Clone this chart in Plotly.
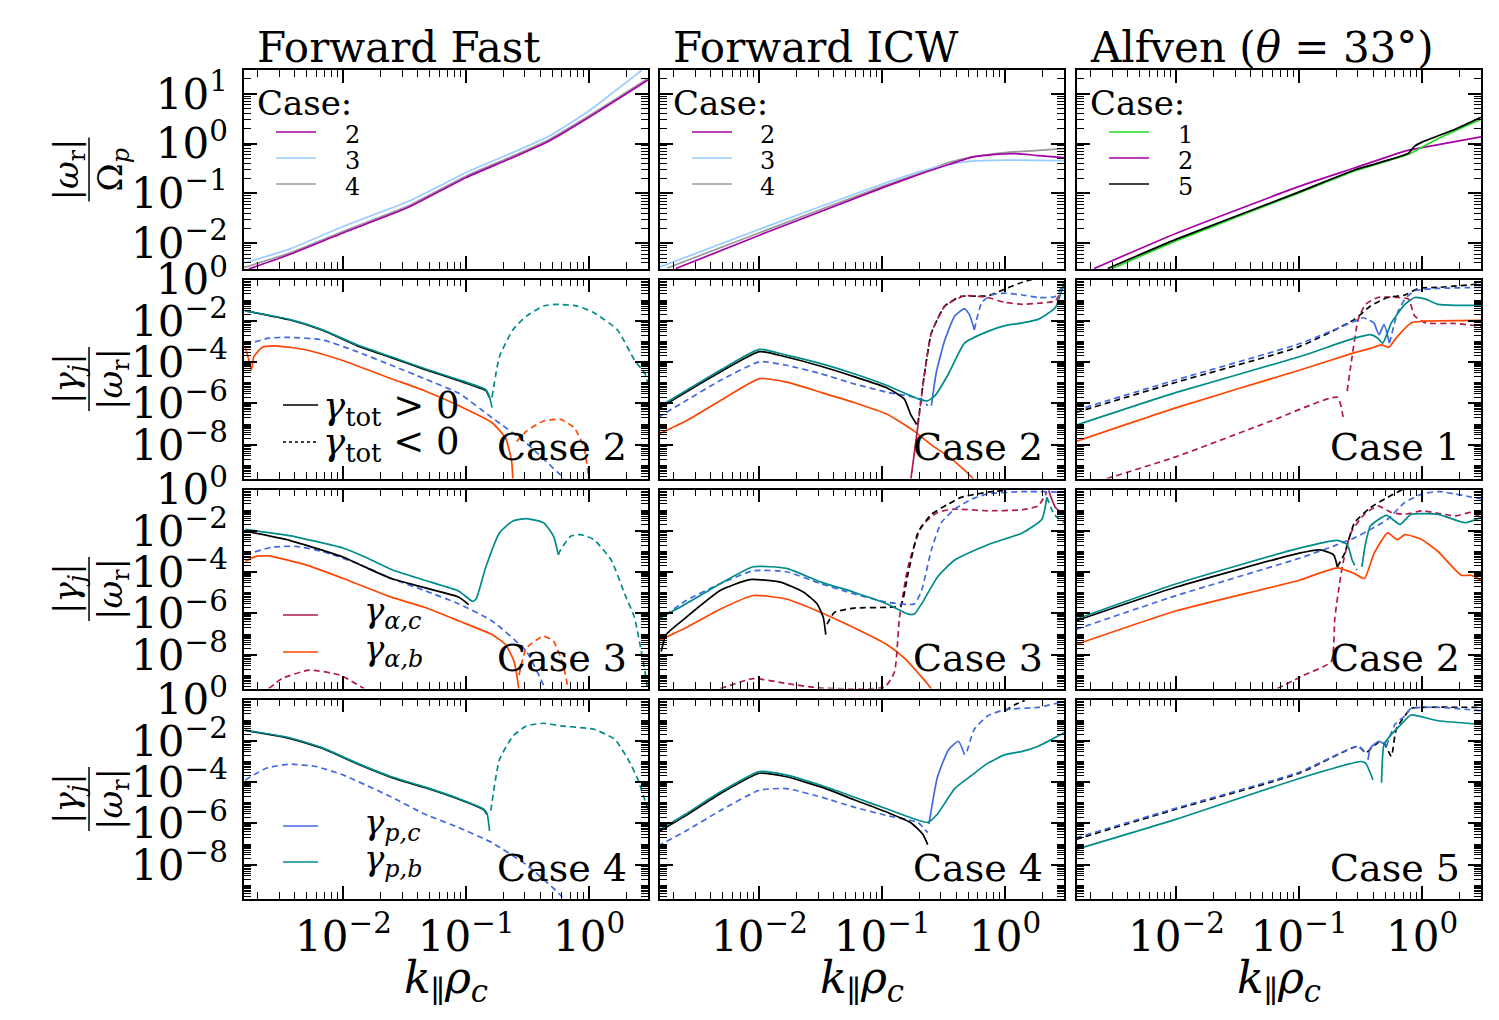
import plotly.graph_objects as go

# ---------------- DATA (log10 values) ----------------
# each list holds (log10 k_par*rho_c, log10 value)

# Row 1: |omega_r| / Omega_p
FF_W_CASE2 = [(-2.77,-2.52),(-2.44,-2.23),(-2.0,-1.79),(-1.48,-1.29),(-1.0,-0.68),(-0.65,-0.31),(-0.32,0.06),(0.0,0.53),(0.48,1.28)]
FF_W_CASE3 = [(-2.81,-2.40),(-2.44,-2.12),(-2.0,-1.66),(-1.48,-1.17),(-1.0,-0.58),(-0.65,-0.21),(-0.32,0.16),(0.0,0.66),(0.43,1.48)]
FF_W_CASE4 = [(-2.81,-2.49),(-2.44,-2.20),(-2.0,-1.76),(-1.48,-1.26),(-1.0,-0.65),(-0.65,-0.28),(-0.32,0.09),(0.0,0.56),(0.48,1.31)]

ICW_W_CASE2 = [(-2.68,-2.51),(-2.0,-1.84),(-1.0,-0.89),(-0.68,-0.60),(-0.46,-0.42),(-0.27,-0.27),(-0.14,-0.23),(0.08,-0.20),(0.27,-0.24),(0.48,-0.28)]
ICW_W_CASE3 = [(-2.81,-2.48),(-2.0,-1.72),(-1.0,-0.81),(-0.68,-0.55),(-0.46,-0.42),(-0.27,-0.35),(0.0,-0.33),(0.48,-0.34)]
ICW_W_CASE4 = [(-2.75,-2.50),(-2.0,-1.79),(-1.0,-0.86),(-0.68,-0.58),(-0.46,-0.38),(-0.27,-0.27),(0.0,-0.18),(0.27,-0.135),(0.48,-0.10)]

ALF_W_CASE1 = [(-2.53,-2.52),(-2.0,-1.95),(-1.0,-0.99),(-0.55,-0.55),(-0.115,-0.22),(0.12,0.09),(0.48,0.49)]
ALF_W_CASE2 = [(-2.67,-2.51),(-2.0,-1.80),(-1.0,-0.86),(-0.55,-0.49),(-0.14,-0.15),(0.0,-0.08),(0.48,0.135)]
ALF_W_CASE5 = [(-2.56,-2.51),(-2.0,-1.92),(-1.0,-0.97),(-0.55,-0.53),(-0.115,-0.20),(-0.06,-0.05),(0.0,0.03),(0.27,0.29),(0.48,0.53)]

# Row 2: |gamma_j|/|omega_r|  (Forward Fast case 2, Forward ICW case 2, Alfven case 1)
FF2_TOT = [(-2.80,-1.52),(-2.44,-1.95),(-2.17,-2.46),(-1.89,-3.20),(-1.61,-3.78),(-1.34,-4.35),(-1.06,-4.90),(-0.84,-5.38),(-0.81,-5.72)]
FF2_PB = [(-2.80,-1.52),(-2.44,-1.93),(-2.17,-2.43),(-1.89,-3.16),(-1.61,-3.74),(-1.34,-4.31),(-1.06,-4.85),(-0.84,-5.34),(-0.81,-5.70),(-0.79,-6.20)]
FF2_PB_NEG = [(-0.79,-5.70),(-0.73,-3.74),(-0.62,-2.43),(-0.51,-1.77),(-0.37,-1.28),(-0.26,-1.20),(-0.10,-1.28),(0.04,-1.61),(0.23,-2.43),(0.37,-3.90),(0.455,-4.56),(0.48,-5.05)]
FF2_PC_NEG = [(-2.80,-3.16),(-2.61,-2.84),(-2.44,-2.80),(-2.17,-2.92),(-1.89,-3.49),(-1.61,-4.15),(-1.34,-4.80),(-1.06,-5.51),(-0.79,-6.69),(-0.51,-7.92),(-0.23,-9.48),(-0.18,-9.80)]
FF2_AB = [(-2.80,-3.28),(-2.77,-3.90),(-2.75,-4.39),(-2.73,-3.74),(-2.66,-3.28),(-2.55,-3.21),(-2.30,-3.41),(-2.0,-3.93),(-1.61,-4.80),(-1.34,-5.38),(-1.06,-6.11),(-0.79,-6.93),(-0.68,-7.67),(-0.63,-8.82),(-0.62,-9.80)]
FF2_AB_NEG = [(-0.59,-7.84),(-0.51,-7.34),(-0.37,-6.85),(-0.23,-6.77),(-0.12,-7.18),(-0.04,-8.16),(0.0,-9.64),(0.01,-9.80)]

ICW2_TOT = [(-2.83,-6.28),(-2.60,-5.46),(-2.32,-4.48),(-2.0,-3.49),(-1.78,-3.75),(-1.50,-4.20),(-1.23,-4.70),(-0.96,-5.25),(-0.82,-5.79),(-0.77,-6.52),(-0.72,-7.02)]
ICW2_TOT_NEG = [(-0.71,-7.00),(-0.66,-4.72),(-0.60,-2.59),(-0.49,-1.28),(-0.36,-0.82),(-0.14,-0.79),(0.0,-0.46),(0.14,-0.13),(0.22,0.0)]
ICW2_PB = [(-2.83,-6.20),(-2.60,-5.38),(-2.32,-4.39),(-2.0,-3.38),(-1.78,-3.66),(-1.50,-4.07),(-1.23,-4.56),(-0.96,-5.13),(-0.68,-5.84),(-0.63,-5.87),(-0.57,-5.62),(-0.46,-4.56),(-0.33,-3.08),(-0.14,-2.51),(0.0,-2.23),(0.14,-2.10),(0.27,-1.93),(0.41,-1.36),(0.48,-0.13)]
ICW2_PC_NEG = [(-2.83,-6.69),(-2.60,-5.87),(-2.32,-4.89),(-2.0,-3.98),(-1.78,-4.15),(-1.50,-4.56),(-1.23,-5.05),(-0.96,-5.46),(-0.68,-5.79),(-0.63,-6.11)]
ICW2_PC = [(-0.60,-6.11),(-0.56,-4.50),(-0.49,-2.92),(-0.41,-1.77),(-0.33,-1.41),(-0.29,-1.70),(-0.25,-2.43)]
ICW2_PC_NEG2 = [(-0.25,-2.43),(-0.19,-1.12),(-0.11,-0.75),(0.0,-0.66),(0.14,-0.75),(0.27,-0.87),(0.41,-0.82),(0.48,-0.13)]
ICW2_AC = [(-0.77,-9.80),(-0.71,-7.10)]
ICW2_AC_NEG = [(-0.71,-7.10),(-0.66,-4.72),(-0.60,-2.59),(-0.49,-1.28),(-0.33,-0.79),(-0.14,-0.87),(0.0,-1.11),(0.14,-1.20),(0.27,-1.15),(0.41,-1.03),(0.48,-0.30)]
ICW2_AB = [(-2.83,-7.51),(-2.60,-6.85),(-2.32,-5.87),(-2.0,-4.80),(-1.78,-4.97),(-1.50,-5.46),(-1.23,-5.95),(-0.96,-6.52),(-0.74,-7.34),(-0.60,-8.0),(-0.46,-8.57),(-0.36,-9.07),(-0.26,-9.64),(-0.24,-9.80)]

ALF1_TOT_NEG = [(-2.82,-6.44),(-2.0,-4.97),(-1.0,-3.25),(-0.55,-1.93),(-0.42,-1.28),(-0.28,-0.87),(-0.14,-0.75),(-0.03,-0.43),(0.14,-0.38),(0.48,-0.21)]
ALF1_PC_NEG = [(-2.82,-6.33),(-2.0,-4.85),(-1.0,-3.11),(-0.55,-2.02),(-0.48,-1.85),(-0.39,-2.10)]
ALF1_PC = [(-0.39,-2.10),(-0.35,-2.67),(-0.31,-2.18),(-0.265,-3.08)]
ALF1_PC_NEG2 = [(-0.265,-3.08),(-0.20,-1.61),(-0.14,-0.95),(-0.06,-0.54),(0.0,-0.49),(0.14,-0.43),(0.48,-0.38)]
ALF1_PB = [(-2.82,-7.05),(-2.0,-5.46),(-1.0,-3.74),(-0.55,-2.84),(-0.42,-2.67),(-0.36,-2.84),(-0.32,-3.08),(-0.25,-2.10),(-0.14,-1.20),(-0.06,-0.87),(0.03,-0.95),(0.13,-1.20),(0.27,-1.25),(0.48,-1.25)]
ALF1_AB = [(-2.82,-7.84),(-2.0,-6.20),(-1.0,-4.39),(-0.55,-3.54),(-0.42,-3.33),(-0.33,-3.16),(-0.27,-3.28),(-0.20,-2.75),(-0.09,-2.10),(0.0,-2.02),(0.48,-1.98)]
ALF1_AC_NEG = [(-2.57,-9.64),(-2.0,-8.57),(-1.23,-6.85),(-0.69,-5.70),(-0.64,-6.77)]
ALF1_AC_NEG2 = [(-0.61,-5.40),(-0.57,-3.74),(-0.52,-1.93),(-0.46,-1.20),(-0.36,-0.87),(-0.19,-0.87),(-0.11,-0.95),(-0.06,-1.77),(0.03,-2.10),(0.27,-2.13),(0.48,-2.26)]

# Row 3 (Forward Fast case 3, Forward ICW case 3, Alfven case 2)
FF3_TOT = [(-2.80,-2.02),(-2.44,-2.46),(-2.0,-3.28),(-1.83,-3.74),(-1.61,-4.31),(-1.34,-4.75),(-1.06,-5.21),(-0.98,-5.57)]
FF3_PB = [(-2.80,-1.93),(-2.44,-2.23),(-2.0,-2.84),(-1.83,-3.25),(-1.61,-3.87),(-1.34,-4.39),(-1.06,-4.92),(-0.95,-5.41),(-0.92,-5.30),(-0.84,-3.74),(-0.73,-2.10),(-0.62,-1.52),(-0.51,-1.41),(-0.37,-1.61),(-0.29,-2.26),(-0.25,-3.16)]
FF3_PB_NEG = [(-0.25,-3.16),(-0.23,-2.90),(-0.15,-2.26),(-0.07,-2.18),(0.04,-2.43),(0.18,-3.41),(0.29,-5.05),(0.37,-6.20),(0.455,-8.82),(0.48,-9.80)]
FF3_PC_NEG = [(-2.80,-3.16),(-2.58,-2.79),(-2.39,-2.75),(-2.17,-3.0),(-1.89,-3.57),(-1.61,-4.31),(-1.34,-4.89),(-1.06,-5.54),(-0.79,-6.36),(-0.51,-7.84),(-0.37,-9.48),(-0.35,-9.80)]
FF3_AB = [(-2.80,-3.49),(-2.72,-3.25),(-2.61,-3.21),(-2.30,-3.66),(-2.0,-4.31),(-1.61,-5.21),(-1.34,-5.70),(-1.06,-6.36),(-0.79,-7.02),(-0.68,-7.51),(-0.61,-8.33),(-0.58,-9.31),(-0.57,-9.80)]
FF3_AB_NEG = [(-0.57,-8.98),(-0.51,-7.67),(-0.37,-7.10),(-0.29,-7.34),(-0.21,-8.49),(-0.17,-9.64),(-0.16,-9.80)]
FF3_AC_NEG = [(-2.61,-9.64),(-2.50,-9.15),(-2.28,-8.74),(-2.03,-8.98),(-1.83,-9.64)]

ICW3_TOT = [(-2.80,-7.84),(-2.76,-7.02),(-2.60,-6.20),(-2.32,-4.89),(-2.08,-4.36),(-1.83,-4.48),(-1.64,-4.97),(-1.53,-5.54),(-1.48,-6.20),(-1.46,-7.02)]
ICW3_TOT_NEG = [(-1.45,-6.52),(-1.39,-5.95),(-1.23,-5.74),(-0.96,-5.70),(-0.85,-5.62),(-0.79,-4.07),(-0.71,-2.10),(-0.60,-1.20),(-0.46,-0.70),(-0.36,-0.38),(-0.14,-0.13),(0.0,-0.05)]
ICW3_PB = [(-2.83,-6.28),(-2.60,-5.54),(-2.32,-4.56),(-2.05,-3.74),(-1.78,-3.82),(-1.50,-4.48),(-1.23,-4.97),(-0.96,-5.54),(-0.79,-6.03),(-0.74,-6.03),(-0.68,-5.54),(-0.55,-4.23),(-0.41,-3.41),(-0.14,-2.67),(0.14,-2.10),(0.30,-1.44),(0.34,-0.38)]
ICW3_PB_NEG = [(0.34,-0.38),(0.40,-1.20),(0.48,-1.61)]
ICW3_PC_NEG = [(-2.83,-6.36),(-2.60,-5.38),(-2.32,-4.56),(-2.05,-3.93),(-1.78,-3.98),(-1.50,-4.56),(-1.23,-5.05),(-0.96,-5.46),(-0.74,-5.54),(-0.68,-4.89),(-0.60,-2.92),(-0.52,-1.61),(-0.41,-0.95),(-0.27,-0.46),(-0.14,-0.21),(0.14,-0.10),(0.48,-0.13)]
ICW3_AC_NEG = [(-2.32,-9.64),(-2.05,-9.15),(-1.78,-9.39),(-1.50,-9.61),(-0.98,-9.56),(-0.90,-8.82),(-0.86,-6.20),(-0.79,-3.74),(-0.68,-1.77),(-0.55,-1.11),(-0.41,-0.95),(-0.14,-1.03),(0.14,-0.98),(0.27,-0.79),(0.34,-0.13)]
ICW3_AC = [(0.355,-0.05),(0.41,-0.87),(0.48,-1.20)]
ICW3_AB = [(-2.83,-7.34),(-2.60,-6.69),(-2.32,-5.79),(-2.05,-5.13),(-1.78,-5.30),(-1.50,-5.95),(-1.23,-6.69),(-0.96,-7.51),(-0.82,-8.16),(-0.68,-9.07),(-0.60,-9.64),(-0.58,-9.80)]

ALF2_TOT = [(-2.82,-6.36),(-2.0,-4.72),(-1.0,-3.08),(-0.83,-2.92),(-0.72,-3.16),(-0.69,-3.74)]
ALF2_TOT_NEG = [(-0.69,-3.74),(-0.63,-3.08),(-0.55,-1.61),(-0.42,-0.87),(-0.28,-0.38),(-0.16,0.0)]
ALF2_PB = [(-2.82,-6.28),(-2.0,-4.56),(-1.0,-2.84),(-0.69,-2.46),(-0.61,-2.67),(-0.57,-3.41)]
ALF2_PB_NEG = [(-0.57,-3.41),(-0.53,-3.90)]
ALF2_PB2 = [(-0.49,-3.74),(-0.46,-2.60),(-0.42,-1.77),(-0.29,-1.25),(-0.18,-1.69),(-0.09,-1.20),(0.13,-1.20),(0.35,-1.61),(0.48,-1.36)]
ALF2_PC_NEG = [(-2.82,-6.77),(-2.0,-5.13),(-1.0,-3.33),(-0.69,-2.67),(-0.55,-2.34),(-0.42,-1.93),(-0.28,-1.44),(-0.14,-0.62),(0.0,-0.21),(0.14,-0.10),(0.48,-0.46)]
ALF2_AB = [(-2.82,-7.51),(-2.0,-5.87),(-1.0,-4.39),(-0.69,-3.79),(-0.55,-4.07),(-0.47,-4.31),(-0.39,-3.08),(-0.28,-2.10),(-0.20,-2.43),(-0.14,-2.18),(0.0,-2.43),(0.13,-3.0),(0.32,-4.15),(0.40,-4.15),(0.48,-4.39)]
ALF2_AC_NEG = [(-1.18,-9.64),(-0.96,-8.98),(-0.74,-8.33),(-0.71,-6.20),(-0.65,-3.74),(-0.58,-2.10),(-0.47,-1.20),(-0.36,-0.79),(-0.25,-1.11),(-0.14,-1.20),(0.0,-1.03),(0.13,-1.15),(0.27,-1.28),(0.40,-1.11),(0.48,-1.36)]

# Row 4 (Forward Fast case 4, Forward ICW case 4, Alfven case 5)
FF4_TOT = [(-2.80,-1.50),(-2.44,-1.88),(-2.17,-2.37),(-1.89,-3.11),(-1.61,-3.77),(-1.34,-4.26),(-1.06,-4.83),(-0.86,-5.33),(-0.83,-5.57)]
FF4_PB = [(-2.80,-1.48),(-2.44,-1.85),(-2.17,-2.34),(-1.89,-3.08),(-1.61,-3.74),(-1.34,-4.23),(-1.06,-4.80),(-0.86,-5.30),(-0.83,-5.54),(-0.81,-6.36)]
FF4_PB_NEG = [(-0.80,-5.38),(-0.73,-2.92),(-0.62,-1.77),(-0.51,-1.28),(-0.37,-1.15),(-0.23,-1.28),(0.04,-1.44),(0.21,-1.93),(0.32,-2.92),(0.40,-3.90),(0.455,-4.89),(0.48,-5.30)]
FF4_PC_NEG = [(-2.80,-3.90),(-2.63,-3.33),(-2.44,-3.13),(-2.22,-3.25),(-2.0,-3.66),(-1.61,-4.72),(-1.34,-5.54),(-1.06,-6.20),(-0.79,-6.93),(-0.51,-8.0),(-0.23,-9.48),(-0.20,-9.80)]

ICW4_TOT = [(-2.83,-6.44),(-2.60,-5.62),(-2.32,-4.56),(-2.0,-3.57),(-1.78,-3.74),(-1.50,-4.23),(-1.23,-4.85),(-0.96,-5.46),(-0.77,-5.95),(-0.67,-6.52),(-0.63,-7.02)]
ICW4_TOT_NEG = [(0.0,-0.55),(0.08,-0.25),(0.16,-0.05)]
ICW4_PB = [(-2.83,-6.36),(-2.60,-5.54),(-2.32,-4.48),(-2.0,-3.49),(-1.78,-3.66),(-1.50,-4.15),(-1.23,-4.72),(-0.96,-5.30),(-0.63,-5.95),(-0.55,-5.54),(-0.41,-4.31),(-0.27,-3.66),(-0.14,-3.08),(0.0,-2.67),(0.14,-2.51),(0.27,-2.26),(0.48,-1.61)]
ICW4_PC_NEG = [(-2.83,-7.10),(-2.60,-6.36),(-2.32,-5.38),(-2.0,-4.39),(-1.78,-4.31),(-1.50,-4.72),(-1.23,-5.21),(-0.96,-5.62),(-0.71,-5.95),(-0.63,-6.44)]
ICW4_PC = [(-0.62,-6.03),(-0.55,-3.74),(-0.46,-2.43),(-0.38,-2.02),(-0.33,-2.67)]
ICW4_PC_NEG2 = [(-0.31,-2.51),(-0.25,-1.44),(-0.14,-0.79),(0.0,-0.49),(0.27,-0.38),(0.48,-0.10)]

ALF5_TOT_NEG = [(-2.82,-6.77),(-2.0,-5.30),(-1.0,-3.57),(-0.52,-2.26),(-0.46,-2.59),(-0.42,-2.40),(-0.35,-2.05),(-0.31,-2.10),(-0.25,-2.75),(-0.21,-1.44),(-0.09,-0.43),(0.0,-0.38),(0.48,-0.38)]
ALF5_PC_NEG = [(-2.82,-6.70),(-2.0,-5.25),(-1.0,-3.52),(-0.52,-2.26),(-0.46,-2.59)]
ALF5_PC = [(-0.44,-2.92),(-0.42,-2.34),(-0.35,-2.02),(-0.29,-2.26)]
ALF5_PC_NEG2 = [(-0.29,-2.26),(-0.22,-1.20),(-0.14,-0.79),(-0.09,-0.43),(0.13,-0.38),(0.48,-0.54)]
ALF5_PB = [(-2.82,-7.26),(-2.0,-5.79),(-1.0,-3.82),(-0.50,-3.0),(-0.46,-3.08),(-0.42,-3.57),(-0.40,-3.90)]
ALF5_PB2 = [(-0.33,-4.03),(-0.31,-2.18),(-0.25,-1.69),(-0.17,-1.20),(-0.09,-0.75),(0.13,-1.03),(0.48,-1.20)]

COLUMN_TITLES = ["Forward Fast", "Forward ICW", "Alfven (<i>θ</i> = 33°)"]
CASE_LABELS = [["Case 2", "Case 2", "Case 1"], ["Case 3", "Case 3", "Case 2"], ["Case 4", "Case 4", "Case 5"]]
TOP_CASES = [["2", "3", "4"], ["2", "3", "4"], ["1", "2", "5"]]
X_TICKS = [1e-2, 1e-1, 1]
X_TICKTEXT = ["10<sup>−2</sup>", "10<sup>−1</sup>", "10<sup>0</sup>"]
Y1_TICKS = [1e-2, 1e-1, 1, 10]
Y1_TICKTEXT = ["10<sup>−2</sup>", "10<sup>−1</sup>", "10<sup>0</sup>", "10<sup>1</sup>"]
YG_TICKS = [1e-8, 1e-6, 1e-4, 1e-2, 1]
YG_TICKTEXT = ["10<sup>−8</sup>", "10<sup>−6</sup>", "10<sup>−4</sup>", "10<sup>−2</sup>", "10<sup>0</sup>"]
X_TITLE = "<i>k</i><sub>∥</sub><i>ρ</i><sub><i>c</i></sub>"

# ---------------- STYLE ----------------
FONT = "DejaVu Serif"
C_AC = "#B0184A"   # gamma_alpha,c
C_AB = "#FF4500"   # gamma_alpha,b
C_PC = "#4169E1"   # gamma_p,c
C_PB = "#008B8B"   # gamma_p,b
C_TOT = "black"
C_CASE = {"1": "#22DD22", "2": "#A600A6", "3": "#99CCFF", "4": "#999999", "5": "black"}
DASH = "6px,4px"
PAGE_W, PAGE_H = 1499, 1020
BODY = 8                      # default page margin around the plot div
W, H = PAGE_W - 2 * BODY, PAGE_H - 2 * BODY
COL_L = [244, 660, 1077]      # positions in page pixels
COL_W = 404
ROW_T = [70, 279.5, 489.5, 699.5]
ROW_H = 199


def px(x):
    return (x - BODY) / W


def py(y):
    return 1 - (y - BODY) / H


fig = go.Figure()


def add(seg, color, dash, idx, width=1.7):
    fig.add_trace(go.Scatter(
        x=[10 ** p[0] for p in seg], y=[10 ** p[1] for p in seg], mode="lines",
        line=dict(color=color, width=width, dash=dash, shape="spline", smoothing=0.5),
        showlegend=False,
        xaxis="x" if idx == 1 else f"x{idx}", yaxis="y" if idx == 1 else f"y{idx}",
        hoverinfo="skip"))


S, D = "solid", DASH
# row 1
add(FF_W_CASE4, C_CASE["4"], S, 1); add(FF_W_CASE3, C_CASE["3"], S, 1); add(FF_W_CASE2, C_CASE["2"], S, 1)
add(ICW_W_CASE4, C_CASE["4"], S, 2); add(ICW_W_CASE3, C_CASE["3"], S, 2); add(ICW_W_CASE2, C_CASE["2"], S, 2)
add(ALF_W_CASE2, C_CASE["2"], S, 3); add(ALF_W_CASE1, C_CASE["1"], S, 3); add(ALF_W_CASE5, C_CASE["5"], S, 3)
# row 2
for seg, c, d in [(FF2_AB, C_AB, S), (FF2_AB_NEG, C_AB, D), (FF2_PC_NEG, C_PC, D), (FF2_TOT, C_TOT, S),
                  (FF2_PB, C_PB, S), (FF2_PB_NEG, C_PB, D)]:
    add(seg, c, d, 4)
for seg, c, d in [(ICW2_AB, C_AB, S), (ICW2_AC, C_AC, S), (ICW2_TOT_NEG, C_TOT, D), (ICW2_AC_NEG, C_AC, D),
                  (ICW2_PC_NEG, C_PC, D), (ICW2_PC, C_PC, S), (ICW2_PC_NEG2, C_PC, D), (ICW2_TOT, C_TOT, S),
                  (ICW2_PB, C_PB, S)]:
    add(seg, c, d, 5)
for seg, c, d in [(ALF1_AC_NEG, C_AC, D), (ALF1_AC_NEG2, C_AC, D), (ALF1_AB, C_AB, S), (ALF1_TOT_NEG, C_TOT, D),
                  (ALF1_PC_NEG, C_PC, D), (ALF1_PC, C_PC, S), (ALF1_PC_NEG2, C_PC, D), (ALF1_PB, C_PB, S)]:
    add(seg, c, d, 6)
# row 3
for seg, c, d in [(FF3_AC_NEG, C_AC, D), (FF3_AB, C_AB, S), (FF3_AB_NEG, C_AB, D), (FF3_PC_NEG, C_PC, D),
                  (FF3_TOT, C_TOT, S), (FF3_PB, C_PB, S), (FF3_PB_NEG, C_PB, D)]:
    add(seg, c, d, 7)
for seg, c, d in [(ICW3_AB, C_AB, S), (ICW3_AC_NEG, C_AC, D), (ICW3_AC, C_AC, S), (ICW3_TOT, C_TOT, S),
                  (ICW3_TOT_NEG, C_TOT, D), (ICW3_PC_NEG, C_PC, D), (ICW3_PB, C_PB, S), (ICW3_PB_NEG, C_PB, D)]:
    add(seg, c, d, 8)
for seg, c, d in [(ALF2_AC_NEG, C_AC, D), (ALF2_AB, C_AB, S), (ALF2_TOT, C_TOT, S), (ALF2_TOT_NEG, C_TOT, D),
                  (ALF2_PC_NEG, C_PC, D), (ALF2_PB, C_PB, S), (ALF2_PB_NEG, C_PB, D), (ALF2_PB2, C_PB, S)]:
    add(seg, c, d, 9)
# row 4
for seg, c, d in [(FF4_PC_NEG, C_PC, D), (FF4_TOT, C_TOT, S), (FF4_PB, C_PB, S), (FF4_PB_NEG, C_PB, D)]:
    add(seg, c, d, 10)
for seg, c, d in [(ICW4_TOT_NEG, C_TOT, D), (ICW4_PC_NEG, C_PC, D), (ICW4_PC, C_PC, S), (ICW4_PC_NEG2, C_PC, D),
                  (ICW4_TOT, C_TOT, S), (ICW4_PB, C_PB, S)]:
    add(seg, c, d, 11)
for seg, c, d in [(ALF5_TOT_NEG, C_TOT, D), (ALF5_PC_NEG, C_PC, D), (ALF5_PC, C_PC, S), (ALF5_PC_NEG2, C_PC, D),
                  (ALF5_PB, C_PB, S), (ALF5_PB2, C_PB, S)]:
    add(seg, c, d, 12)

# ---------------- AXES ----------------
minor_x = [m * 10.0 ** e for e in range(-3, 1) for m in range(2, 10)]
minor_y1 = [m * 10.0 ** e for e in range(-3, 2) for m in range(2, 10)]
minor_yg = [m * 10.0 ** e for e in range(-10, 0) for m in range(2, 10)] + [1e-9, 1e-7, 1e-5, 1e-3, 1e-1]
axfont = dict(family=FONT, size=42, color="black")
common = dict(type="log", showline=True, linecolor="black", linewidth=1.5, mirror="allticks",
              ticks="inside", ticklen=13, tickwidth=1.5, tickcolor="black", showgrid=False,
              zeroline=False, tickfont=axfont, tickmode="array", automargin=False)
layout_axes = {}
for r in range(4):
    for c in range(3):
        i = r * 3 + c + 1
        sfx = "" if i == 1 else str(i)
        xa = dict(common, domain=[px(COL_L[c]), px(COL_L[c] + COL_W)], anchor="y" + sfx, range=[-2.81, 0.48],
                  tickvals=X_TICKS, ticktext=X_TICKTEXT, showticklabels=(r == 3),
                  ticklabelstandoff=0,
                  minor=dict(ticks="inside", ticklen=7, tickwidth=1.2, tickcolor="black",
                             tickmode="array", tickvals=minor_x, showgrid=False))
        ydom = [py(ROW_T[r] + ROW_H), py(ROW_T[r])]
        if r == 0:
            ya = dict(common, domain=ydom, anchor="x" + sfx, range=[-2.52, 1.48],
                      tickvals=Y1_TICKS, ticktext=Y1_TICKTEXT, showticklabels=(c == 0),
                      minor=dict(ticks="inside", ticklen=7, tickwidth=1.2, tickcolor="black",
                                 tickmode="array", tickvals=minor_y1, showgrid=False))
        else:
            ya = dict(common, domain=ydom, anchor="x" + sfx, range=[-9.63, 0],
                      tickvals=YG_TICKS, ticktext=YG_TICKTEXT, showticklabels=(c == 0),
                      minor=dict(ticks="inside", ticklen=7, tickwidth=1.2, tickcolor="black",
                                 tickmode="array", tickvals=minor_yg, showgrid=False))
        ya["ticklabelstandoff"] = 6
        layout_axes["xaxis" + sfx] = xa
        layout_axes["yaxis" + sfx] = ya

fig.update_layout(width=W, height=H, margin=dict(l=0, r=0, t=0, b=0, autoexpand=False),
                  paper_bgcolor="white", plot_bgcolor="white", showlegend=False, **layout_axes)


def text(t, x, y, size, xanchor="center", yanchor="middle", angle=0):
    fig.add_annotation(text=t, x=px(x), y=py(y), xref="paper", yref="paper", showarrow=False,
                       font=dict(family=FONT, size=size, color="black"),
                       xanchor=xanchor, yanchor=yanchor, textangle=angle)


def seg_shape(x0, x1, y, color, dash="solid"):
    fig.add_shape(type="line", x0=px(x0), x1=px(x1), y0=py(y), y1=py(y), xref="paper", yref="paper",
                  line=dict(color=color, width=1.7, dash=dash))


for c in range(3):
    # column titles
    text(COLUMN_TITLES[c], COL_L[c] + 11, 48, 42, xanchor="left")
    # x-axis titles
    text(X_TITLE, COL_L[c] + COL_W / 2, 980, 44)
    # top-row case legends
    text("Case:", COL_L[c] + 11, 103, 34, xanchor="left")
    for k, case in enumerate(TOP_CASES[c]):
        yy = 132 + 26 * k
        seg_shape(COL_L[c] + 32, COL_L[c] + 72, yy, C_CASE[case])
        text(case, COL_L[c] + 108, yy + 3, 24)

# case labels
for r in range(1, 4):
    for c in range(3):
        text(CASE_LABELS[r - 1][c], COL_L[c] + COL_W - 19, ROW_T[r] + ROW_H - 31, 38, xanchor="right")

# legends in left column
seg_shape(283, 318, 405, C_TOT)
text("<i>γ</i><sub>tot</sub> &gt; 0", 321, 408, 37, xanchor="left")
seg_shape(283, 318, 442, C_TOT, dash="3px,3px")
text("<i>γ</i><sub>tot</sub> &lt; 0", 321, 444, 37, xanchor="left")
seg_shape(283, 318, 615, C_AC)
text("<i>γ</i><sub><i>α,c</i></sub>", 362, 612, 34, xanchor="left")
seg_shape(283, 318, 652, C_AB)
text("<i>γ</i><sub><i>α,b</i></sub>", 362, 650, 34, xanchor="left")
seg_shape(283, 318, 826, C_PC)
text("<i>γ</i><sub><i>p,c</i></sub>", 362, 824, 34, xanchor="left")
seg_shape(283, 318, 862, C_PB)
text("<i>γ</i><sub><i>p,b</i></sub>", 362, 860, 34, xanchor="left")

# y-axis fraction labels (rotated)
for r in range(4):
    cy = ROW_T[r] + ROW_H / 2
    if r == 0:
        num, den = "|<i>ω</i><sub>r</sub>|", "Ω<sub><i>p</i></sub>"
    else:
        num, den = "|<i>γ</i><sub><i>j</i></sub>|", "|<i>ω</i><sub>r</sub>|"
    text(num, 68, cy, 34, angle=-90)
    text(den, 112, cy, 34, angle=-90)
    fig.add_shape(type="line", x0=px(89), x1=px(89), y0=py(cy - 32), y1=py(cy + 32),
                  xref="paper", yref="paper", line=dict(color="black", width=1.5))

fig.write_html("out.html")
